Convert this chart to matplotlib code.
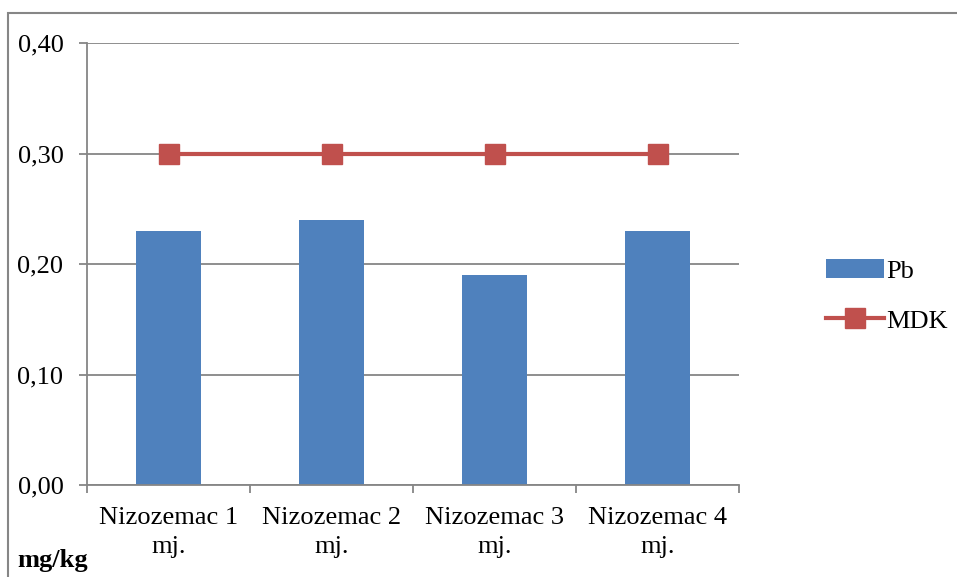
import matplotlib

matplotlib.use("Agg")
import matplotlib.pyplot as plt  # noqa: E402
from matplotlib.patches import Rectangle  # noqa: E402

BLUE = "#4F81BD"
RED = "#C0504D"
GRID = "#868686"

categories = ["Nizozemac 1\nmj.", "Nizozemac 2\nmj.", "Nizozemac 3\nmj.", "Nizozemac 4\nmj."]
pb = [0.23, 0.24, 0.19, 0.23]
mdk = [0.30, 0.30, 0.30, 0.30]
yticks = [0.0, 0.1, 0.2, 0.3, 0.4]
ytick_labels = ["0,00", "0,10", "0,20", "0,30", "0,40"]

plt.rcParams.update({
    "font.family": ["Liberation Serif", "DejaVu Serif"],
    "font.size": 19,
})

fig = plt.figure(figsize=(9.57, 5.77), dpi=100)
ax = fig.add_axes([87 / 957, 1 - 485 / 577, 652 / 957, 442 / 577])

# outer chart border
fig.patches.append(Rectangle((8 / 957, -0.1), 1.2, 1 - 13 / 577 + 0.1,
                             transform=fig.transFigure, fill=False,
                             edgecolor=GRID, linewidth=1.5))

x = list(range(len(categories)))
bars = ax.bar(x, pb, width=0.4, color=BLUE, label="Pb", zorder=2)
line, = ax.plot(x, mdk, color=RED, linewidth=3, marker="s", markersize=15,
                label="MDK", zorder=3)

ax.set_xlim(-0.5, len(categories) - 0.5)
ax.set_ylim(0, 0.4)
ax.set_yticks(yticks)
ax.set_yticklabels(ytick_labels)
ax.set_xticks([i - 0.5 for i in range(len(categories) + 1)])
ax.set_xticklabels([])
ax.set_xticks(x, minor=True)
ax.set_xticklabels(categories, minor=True, linespacing=1.4)
ax.tick_params(axis="x", which="minor", length=0, pad=16)
ax.tick_params(axis="x", which="major", length=6, color=GRID, width=1.3)
ax.tick_params(axis="y", length=6, color=GRID, width=1.3, pad=11)

ax.grid(True, axis="y", color=GRID, linewidth=1.3, zorder=0)
ax.set_axisbelow(True)
for s in ("top", "right"):
    ax.spines[s].set_visible(False)
for s in ("left", "bottom"):
    ax.spines[s].set_color(GRID)
    ax.spines[s].set_linewidth(1.3)

fig.legend([bars, line], ["Pb", "MDK"], loc="center left",
           bbox_to_anchor=(815 / 957, 1 - 296 / 577),
           frameon=False, handlelength=2.2, handletextpad=0.1,
           labelspacing=1.0, borderaxespad=0)

fig.text(17 / 957, 1 - 560 / 577, "mg/kg", fontweight="bold", fontsize=19,
         va="center", ha="left")

fig.savefig("out.png", dpi=100)
